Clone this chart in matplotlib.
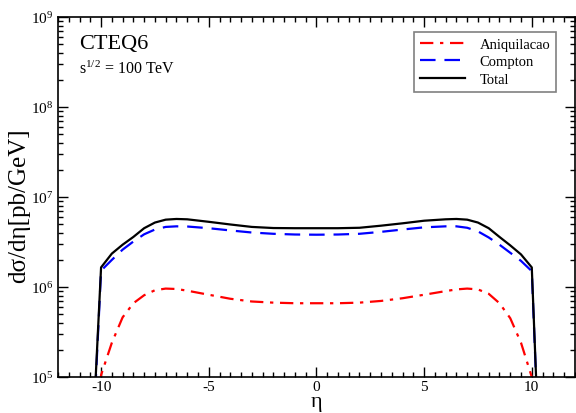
import matplotlib
matplotlib.use("Agg")
import matplotlib.pyplot as plt
from matplotlib.ticker import LogLocator, MultipleLocator, LogFormatterMathtext, NullFormatter

plt.rcParams['font.family'] = ['Liberation Serif', 'DejaVu Serif']
plt.rcParams['mathtext.fontset'] = 'custom'
plt.rcParams['mathtext.rm'] = 'Liberation Serif'
plt.rcParams['mathtext.it'] = 'Liberation Serif:italic'
plt.rcParams['axes.unicode_minus'] = False

# pseudorapidity grid
eta = [-10.5, -10, -9.5, -9, -8.5, -8, -7.5, -7, -6.5, -6, -5, -4, -3, -2, -1, 0,
       1, 2, 3, 4, 5, 6, 6.5, 7, 7.5, 8, 8.5, 9, 9.5, 10, 10.5]

# d sigma / d eta  [pb/GeV]
aniquilacao = [1e3, 1.05e5, 2.4e5, 4.6e5, 6.6e5, 8.1e5, 9.2e5, 9.6e5, 9.5e5, 9.1e5,
               8.2e5, 7.4e5, 6.9e5, 6.7e5, 6.6e5, 6.6e5,
               6.6e5, 6.7e5, 7.0e5, 7.5e5, 8.2e5, 9.0e5, 9.4e5, 9.6e5, 9.4e5,
               8.4e5, 6.6e5, 4.5e5, 2.4e5, 1.0e5, 1e3]
compton = [5e3, 1.52e6, 2.0e6, 2.6e6, 3.2e6, 3.85e6, 4.35e6, 4.65e6, 4.72e6, 4.7e6,
           4.5e6, 4.25e6, 4.03e6, 3.9e6, 3.83e6, 3.81e6,
           3.83e6, 3.9e6, 4.1e6, 4.35e6, 4.6e6, 4.72e6, 4.72e6, 4.55e6, 4.15e6,
           3.55e6, 2.95e6, 2.4e6, 1.95e6, 1.5e6, 1.5e3]
total = [6e3, 1.65e6, 2.35e6, 2.95e6, 3.6e6, 4.5e6, 5.2e6, 5.6e6, 5.7e6, 5.65e6,
         5.3e6, 4.95e6, 4.65e6, 4.52e6, 4.5e6, 4.5e6,
         4.5e6, 4.55e6, 4.8e6, 5.1e6, 5.45e6, 5.65e6, 5.7e6, 5.6e6, 5.2e6,
         4.5e6, 3.6e6, 2.9e6, 2.3e6, 1.65e6, 1.5e3]

fig = plt.figure(figsize=(5.76, 4.14), dpi=100)
ax = fig.add_axes([0.1007, 0.087, 0.8973, 0.8695])

ax.plot(eta, aniquilacao, color='red', lw=1.6, dashes=(6, 3, 1.5, 3), label='Aniquilacao')
ax.plot(eta, compton, color='blue', lw=1.6, dashes=(7, 4), label='Compton')
ax.plot(eta, total, color='black', lw=1.6, label='Total')

ax.set_yscale('log')
ax.set_xlim(-12, 12)
ax.set_ylim(1e5, 1e9)

ax.xaxis.set_major_locator(MultipleLocator(5))
ax.xaxis.set_minor_locator(MultipleLocator(0.5))
ax.yaxis.set_major_locator(LogLocator(base=10))
ax.yaxis.set_minor_locator(LogLocator(base=10, subs=range(2, 10)))
ax.yaxis.set_major_formatter(LogFormatterMathtext())
ax.yaxis.set_minor_formatter(NullFormatter())

ax.tick_params(which='both', direction='in', top=True, right=True, labelsize=11, width=1)
ax.tick_params(which='major', length=7)
ax.tick_params(which='minor', length=3.5)
ax.tick_params(axis='x', which='major', pad=2)
for s in ax.spines.values():
    s.set_linewidth(1.2)

ax.set_xlabel(r'$\mathregular{η}$', fontsize=16, va='baseline')
ax.xaxis.set_label_coords(0.5, -0.081)
ax.set_ylabel('dσ/dη[pb/GeV]', fontsize=18, va='center')
ax.yaxis.set_label_coords(-0.0754, 0.478)

ax.text(0.04, 0.915, 'CTEQ6', transform=ax.transAxes, fontsize=16, va='baseline')
ax.text(0.04, 0.845, r'$\mathregular{s^{1/2}}$ = 100 TeV', transform=ax.transAxes,
        fontsize=11.5, va='baseline')

leg = ax.legend(loc='upper right', bbox_to_anchor=(0.9635, 0.958), borderaxespad=0,
                fontsize=10.5, fancybox=False, edgecolor='gray', framealpha=1,
                handlelength=3.1, borderpad=0.4, labelspacing=0.28, handletextpad=1.0)
leg.get_frame().set_linewidth(1.2)

fig.savefig('out.png', dpi=100)
